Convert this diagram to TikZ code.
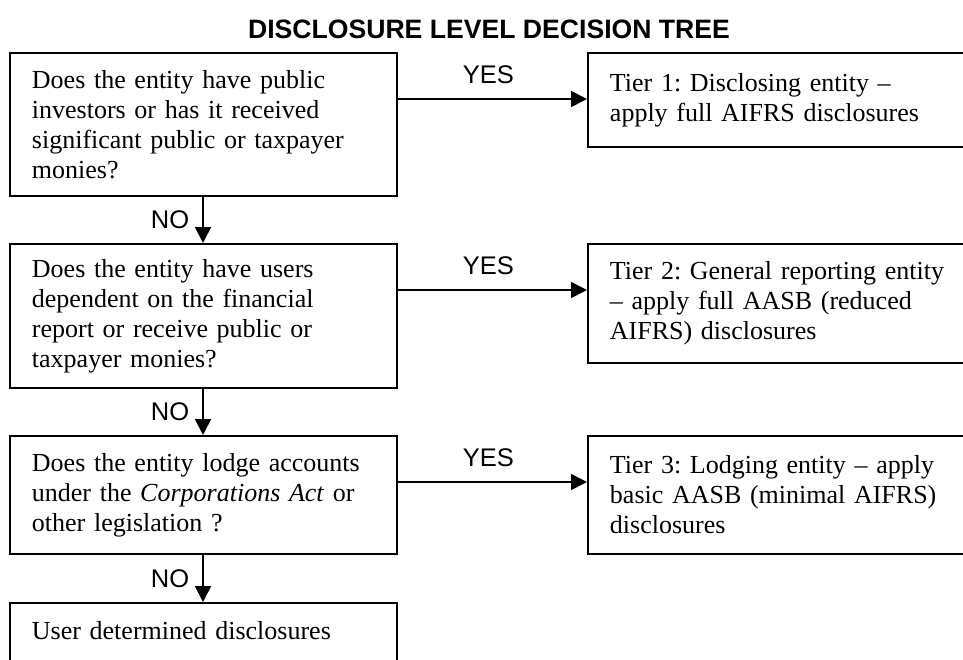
\documentclass[tikz,border=0pt]{standalone}
\usepackage{fontspec}
\setmainfont{Liberation Serif}
\setsansfont{Liberation Sans}
\usetikzlibrary{arrows.meta}
\frenchspacing
\tikzset{
  qbox/.style={draw, line width=1.9pt, anchor=north west, inner xsep=22pt, inner ysep=0pt,
    text width=343pt, minimum width=387pt, align=left,
    font=\fontsize{26}{30}\selectfont},
  tbox/.style={qbox, text width=356pt, minimum width=400pt},
  conn/.style={line width=1.8pt, -{Triangle[length=16pt,width=16pt]}},
  lab/.style={font=\sffamily\fontsize{25.5}{28}\selectfont, inner sep=0pt},
}
\begin{document}
\begin{tikzpicture}[x=1pt,y=-1pt]
\useasboundingbox (0,0) rectangle (963,659);
\clip (0,0) rectangle (963,659);
\node[font=\sffamily\bfseries\fontsize{26.6}{30}\selectfont, anchor=base] (title) at (489,38) {DISCLOSURE LEVEL DECISION TREE};

\node[qbox, minimum height=143pt] (q1) at (9,52) {Does the entity have public\\investors or has it received\\significant public or taxpayer\\monies?};
\node[qbox, minimum height=144pt] (q2) at (9,243) {Does the entity have users\\dependent on the financial\\report or receive public or\\taxpayer monies?};
\node[qbox, minimum height=118pt] (q3) at (9,435) {Does the entity lodge accounts\\under the \textit{Corporations Act} or\\other legislation ?};
\node[qbox, minimum height=86pt] (q4) at (9,602) {User determined disclosures\\~};

\node[tbox, minimum height=94pt] (t1) at (587,52) {Tier 1: Disclosing entity \textendash\\apply full AIFRS disclosures};
\node[tbox, minimum height=119pt] (t2) at (587,243) {Tier 2: General reporting entity\\\textendash{} apply full AASB (reduced\\AIFRS) disclosures};
\node[tbox, minimum height=118pt] (t3) at (587,435) {Tier 3: Lodging entity \textendash{} apply\\basic AASB (minimal AIFRS)\\disclosures};

\coordinate (a1) at (587,99);
\coordinate (a2) at (587,290);
\coordinate (a3) at (587,482);
\coordinate (nx) at (203,0);

\draw[conn] (q1.east |- a1) -- node[lab, anchor=south, yshift=14pt, xshift=-4pt] {YES} (t1.west |- a1);
\draw[conn] (q2.east |- a2) -- node[lab, anchor=south, yshift=14pt, xshift=-4pt] {YES} (t2.west |- a2);
\draw[conn] (q3.east |- a3) -- node[lab, anchor=south, yshift=14pt, xshift=-4pt] {YES} (t3.west |- a3);

\draw[conn] (q1.south -| nx) -- node[lab, anchor=east, xshift=-13pt] {NO} (q2.north -| nx);
\draw[conn] (q2.south -| nx) -- node[lab, anchor=east, xshift=-13pt] {NO} (q3.north -| nx);
\draw[conn] (q3.south -| nx) -- node[lab, anchor=east, xshift=-13pt] {NO} (q4.north -| nx);
\end{tikzpicture}
\end{document}
